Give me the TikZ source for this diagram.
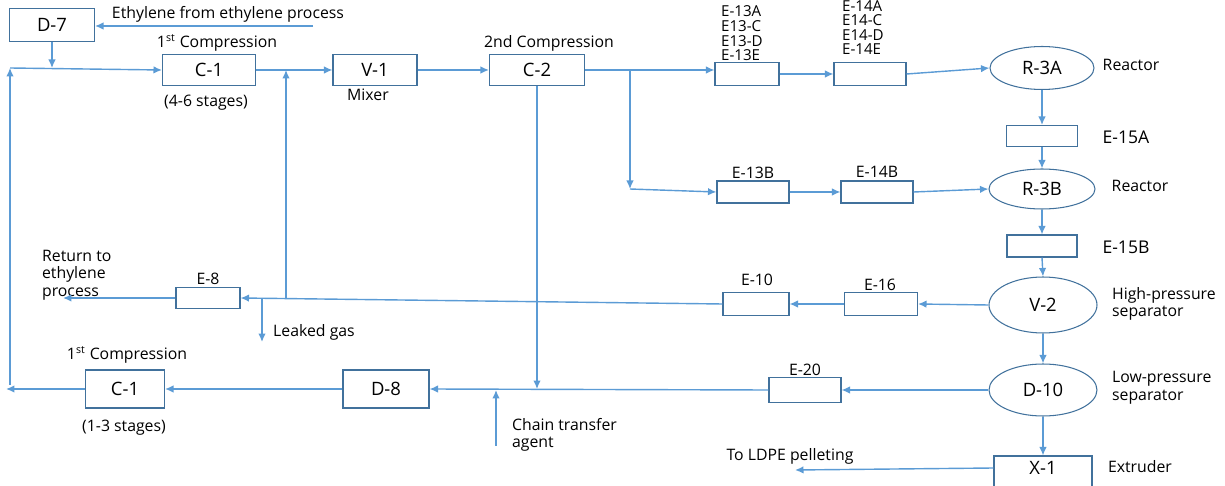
\documentclass[tikz,border=0pt]{standalone}
\usepackage{fontspec}
\setmainfont{Open Sans}
\usetikzlibrary{arrows.meta,shapes.geometric}
\definecolor{flowblue}{HTML}{5B9BD5}
\definecolor{edgeblue}{HTML}{41719C}
\begin{document}
\begin{tikzpicture}[x=0.02cm,y=-0.02cm,
  every node/.style={font=\fontsize{9}{10}\selectfont,inner sep=1pt},
  box/.style={draw=edgeblue,line width=0.6pt,font=\fontsize{10.5}{11}\selectfont,inner sep=0pt},
  vessel/.style={ellipse,draw=edgeblue,line width=0.6pt,font=\fontsize{10.5}{11}\selectfont,inner sep=0pt},
  stack/.style={anchor=south west,align=left,font=\fontsize{8.6}{8.3}\selectfont},
  flow/.style={draw=flowblue,line width=0.8pt,-{Latex[length=1.7mm,width=1.5mm]}}]
\useasboundingbox (0,0) rectangle (1225,486);
% first compression and mixing
\node[box,minimum width=1.7cm,minimum height=0.66cm] (d7) at (52,25) {D-7};
\node[box,minimum width=1.86cm,minimum height=0.62cm] (c1a) at (209,70) {C-1};
\node[box,minimum width=1.68cm,minimum height=0.62cm] (v1) at (375,70) {V-1};
\node[box,minimum width=1.9cm,minimum height=0.62cm] (c2) at (537,70) {C-2};
\node (ethtxt) at (228,14) {Ethylene from ethylene process};
\node (c1atxt) at (217,43) {1\textsuperscript{st} Compression};
\node (c1astg) at (206,103) {(4-6 stages)};
\node (v1txt) at (368,95) {Mixer};
\node (c2txt) at (549,43) {2nd Compression};
% heaters and reactors
\node[box,minimum width=1.28cm,minimum height=0.46cm] (e13a) at (747,74) {};
\node[box,minimum width=1.44cm,minimum height=0.46cm] (e14a) at (870,74) {};
\node[vessel,minimum width=2.08cm,minimum height=0.86cm] (r3a) at (1042,68) {R-3A};
\node[box,minimum width=1.42cm,minimum height=0.42cm] (e15a) at (1042,136) {};
\node[box,minimum width=1.44cm,minimum height=0.44cm] (e13b) at (753,192) {};
\node[box,minimum width=1.44cm,minimum height=0.44cm] (e14b) at (877,192) {};
\node[vessel,minimum width=2.12cm,minimum height=0.8cm] (r3b) at (1042,189) {R-3B};
\node[box,minimum width=1.4cm,minimum height=0.44cm] (e15b) at (1042,246) {};
\node[stack] (e13atxt) at (719,63) {E-13A\\E13-C\\E13-D\\E-13E};
\node[stack] (e14atxt) at (840,57) {E-14A\\E14-C\\E14-D\\E-14E};
\node (r3atxt) at (1131,65) {Reactor};
\node (r3btxt) at (1140,186) {Reactor};
\node[font=\fontsize{10}{11}\selectfont] (e15atxt) at (1126,137) {E-15A};
\node[font=\fontsize{10}{11}\selectfont] (e15btxt) at (1126,247) {E-15B};
\node (e13btxt) at (753,173) {E-13B};
\node (e14btxt) at (877,172) {E-14B};
% separation
\node[vessel,minimum width=2.16cm,minimum height=1.12cm] (v2) at (1043,305) {V-2};
\node[box,minimum width=1.46cm,minimum height=0.46cm] (e16) at (881,304) {};
\node[box,minimum width=1.32cm,minimum height=0.46cm] (e10) at (756,304) {};
\node[box,minimum width=1.28cm,minimum height=0.42cm] (e8) at (208,298) {};
\node[vessel,minimum width=2.16cm,minimum height=1.04cm] (d10) at (1043,390) {D-10};
\node[box,minimum width=1.44cm,minimum height=0.5cm] (e20) at (805,390) {};
\node[box,minimum width=1.72cm,minimum height=0.76cm] (d8) at (386,389) {D-8};
\node[box,minimum width=1.58cm,minimum height=0.76cm] (c1b) at (125,389) {C-1};
\node[box,minimum width=1.96cm,minimum height=0.88cm] (x1) at (1043,478) {};
\node[font=\fontsize{10.5}{11}\selectfont] (x1txt) at (1043,468) {X-1};
\node (e16txt) at (880,285) {E-16};
\node (e10txt) at (757,280) {E-10};
\node (e8txt) at (208,279) {E-8};
\node (e20txt) at (805,370) {E-20};
\node[anchor=west,align=left] (v2txt) at (1110,304) {High-pressure\\separator};
\node[anchor=west,align=left] (d10txt) at (1110,388) {Low-pressure\\separator};
\node[anchor=west,align=left] (rettxt) at (40,275) {Return to\\ethylene\\process};
\node (leaktxt) at (314,332) {Leaked gas};
\node (c1btxt) at (127,355) {1\textsuperscript{st} Compression};
\node (c1bstg) at (124,428) {(1-3 stages)};
\node[anchor=west,align=left] (ctatxt) at (510,435) {Chain transfer\\agent};
\node (pelltxt) at (790,456) {To LDPE pelleting};
\node (x1lbl) at (1140,467) {Extruder};
% free ends
\coordinate (ethin) at (313,26);
\coordinate (lb) at (10,385);
\coordinate (lt) at (10,68);
\coordinate (br) at (630,70);
\coordinate (brb) at (630,189);
\coordinate (rj) at (286,298);
\coordinate (rt) at (286,70);
\coordinate (leak) at (262,298);
\coordinate (leakb) at (262,342);
\coordinate (ret) at (63,298);
\coordinate (lend) at (6,389);
\coordinate (cta) at (496,446);
\coordinate (ctb) at (496,390);
\coordinate (pell) at (795,470);
% connectors
\draw[flow] (ethin) -- (d7.east |- ethin);
\draw[flow] (d7.south) -- (d7.south |- lt);
\draw[flow] (lb) -- (lt);
\draw[flow] (lt) -- (c1a.west);
\draw[flow] (c1a.east) -- (v1.west);
\draw[flow] (v1.east) -- (c2.west);
\draw[flow] (c2.east) -- (c2.east -| e13a.west);
\draw[flow] (br) -- (brb);
\draw[flow] (brb) -- (e13b.west);
\draw[flow] (e13a.east) -- (e14a.west);
\draw[flow] (e14a.east) -- (r3a.west);
\draw[flow] (r3a.south) -- (e15a.north);
\draw[flow] (e15a.south) -- (r3b.north);
\draw[flow] (e13b.east) -- (e14b.west);
\draw[flow] (e14b.east) -- (r3b.west);
\draw[flow] (r3b.south) -- (e15b.north);
\draw[flow] (e15b.south) -- (v2.north);
\draw[flow] (v2.west) -- (e16.east);
\draw[flow] (e16.west) -- (e10.east);
\draw[flow] (e10.west) -- (e8.east);
\draw[flow] (rj) -- (rt);
\draw[flow] (leak) -- (leakb);
\draw[flow] (e8.west) -- (ret);
\draw[flow] (v2.south) -- (d10.north);
\draw[flow] (d10.west) -- (e20.east);
\draw[flow] (e20.west) -- (d8.east);
\draw[flow] (c2.south) -- (c2.south |- d8.east);
\draw[flow] (cta) -- (ctb);
\draw[flow] (d8.west) -- (c1b.east);
\draw[flow] (c1b.west) -- (lend);
\draw[flow] (d10.south) -- (x1.north);
\draw[flow] (x1.west |- x1txt) -- (pell);
\end{tikzpicture}
\end{document}
